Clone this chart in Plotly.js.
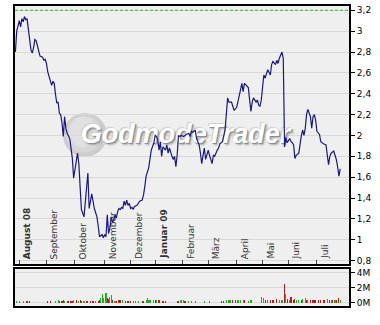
<!DOCTYPE html>
<html><head><meta charset="utf-8">
<script src="https://cdn.plot.ly/plotly-3.0.1.min.js"></script>
<style>html,body{margin:0;padding:0;background:#fff;}#chart{width:380px;height:325px;}</style>
</head><body><div id="chart"></div>
<script>
// trading session number (0 = 28 Jul 2008)
const session = [1,2,4,5,6,7,8,9,10,11,12,13,14,15,16,17,18,19,20,22,23,24,25,26,27,29,30,31,32,33,34,35,36,37,38,39,40,41,43,44,45,46,48,49,50,52,54,56,57,58,60,62,64,65,66,68,69,70,71,72,73,74,75,76,77,78,79,80,81,82,83,84,85,86,87,88,89,90,91,92,93,95,96,97,99,100,101,102,104,105,106,108,109,110,111,112,113,114,115,117,118,119,120,122,123,124,125,126,127,128,129,131,132,133,135,136,137,138,140,141,142,143,144,145,146,147,148,149,150,151,153,154,155,157,158,159,161,163,165,166,168,169,170,172,173,175,176,177,178,180,181,182,183,184,185,187,188,189,190,191,193,194,195,196,198,199,200,202,203,204,205,207,208,209,210,211,213,214,215,216,217,218,220,221,222,223,224,225,226,227,228,229,230,231,232,233,234,235,236,237,238,239,241,242,243,244,245,247,248,249,250,251,252];
const close = [2.80,3.00,3.10,3.04,3.12,3.09,3.14,3.11,3.12,3.03,2.93,2.82,2.79,2.84,2.92,2.91,2.86,2.79,2.76,2.75,2.72,2.73,2.69,2.61,2.56,2.48,2.52,2.50,2.39,2.31,2.32,2.21,2.20,2.12,1.99,2.18,2.07,2.02,1.97,1.88,1.78,1.59,1.78,1.83,1.73,1.29,1.22,1.49,1.64,1.30,1.44,1.30,1.22,1.13,1.03,1.05,1.02,1.05,1.03,1.24,1.06,1.11,1.22,1.17,1.19,1.24,1.21,1.27,1.30,1.29,1.31,1.30,1.37,1.33,1.38,1.33,1.35,1.30,1.31,1.29,1.32,1.33,1.35,1.37,1.38,1.43,1.51,1.61,1.69,1.77,1.86,1.93,2.00,1.99,1.96,1.86,1.94,1.80,1.89,1.86,1.91,1.83,1.88,1.80,1.77,1.80,1.70,1.81,2.00,1.99,2.00,1.99,2.00,2.01,2.02,1.99,2.04,2.03,2.05,1.97,1.94,1.91,1.83,1.73,1.81,1.88,1.77,1.83,1.86,1.81,1.73,1.81,1.80,1.86,1.88,1.92,1.94,2.05,2.36,2.32,2.32,2.28,2.24,2.27,2.34,2.44,2.50,2.42,2.50,2.47,2.46,2.34,2.23,2.32,2.36,2.32,2.34,2.29,2.28,2.34,2.58,2.55,2.60,2.63,2.58,2.68,2.71,2.68,2.72,2.69,2.74,2.80,2.74,1.89,1.98,1.93,1.97,1.94,1.93,1.91,1.78,1.81,1.83,1.93,2.00,2.05,2.00,2.07,2.20,2.25,2.20,2.18,2.07,2.18,2.20,2.15,2.04,2.02,2.01,1.94,1.93,1.92,1.91,1.83,1.72,1.80,1.83,1.85,1.81,1.77,1.70,1.61,1.68];

const volSession = [2,4,7,10,12,26,28,32,34,35,37,38,39,41,42,44,45,46,48,50,51,52,54,56,57,59,61,63,65,66,67,68,69,71,72,73,74,75,76,78,79,81,82,84,86,88,90,92,94,96,99,100,102,103,104,105,108,109,110,112,115,117,126,127,129,131,132,135,137,140,147,151,160,162,164,166,167,169,171,173,175,177,178,181,183,191,193,194,196,198,200,203,205,207,209,210,211,213,214,216,217,218,220,222,223,225,226,227,229,231,232,233,235,237,239,240,242,244,245,246,248,249,251,252];
const volumeM = [0.2,0.2,0.2,0.2,0.25,0.25,0.25,0.2,0.35,0.25,0.25,0.35,0.25,0.25,0.25,0.25,0.25,0.4,0.3,0.25,0.4,0.25,0.25,0.25,0.25,0.25,0.25,0.25,0.25,0.4,0.65,1.1,0.65,1.25,0.65,0.45,0.8,1.05,0.35,0.25,0.25,0.4,0.3,0.3,0.25,0.25,0.25,0.25,0.2,0.2,0.25,0.25,0.3,0.55,0.3,0.3,0.35,0.3,0.3,0.4,0.25,0.25,0.25,0.25,0.3,0.35,0.25,0.25,0.25,0.25,0.25,0.25,0.25,0.25,0.4,0.3,0.3,0.4,0.3,0.3,0.3,0.3,0.35,0.25,0.3,0.7,0.55,0.35,0.35,0.3,0.3,0.45,0.3,0.4,2.55,1.2,0.5,0.3,0.8,0.3,0.5,0.3,0.35,0.3,0.45,0.65,0.35,0.3,0.3,0.3,0.3,0.3,0.3,0.3,0.3,0.35,0.45,0.3,0.35,0.3,0.35,0.35,0.6,0.3];
const volDir = ['up','up','up','down','down','down','down','up','up','down','down','down','up','down','down','down','down','up','down','up','down','down','up','down','down','down','down','up','down','down','up','up','up','up','down','down','up','up','down','up','down','down','down','up','down','down','down','up','up','up','down','down','up','up','up','up','up','down','up','down','down','down','down','down','up','up','down','up','up','up','up','up','down','down','up','up','up','down','down','up','up','up','down','up','up','up','up','down','up','down','down','down','up','up','down','up','down','up','down','down','down','up','up','down','up','up','down','up','down','down','down','down','down','down','down','down','up','down','up','down','up','down','down','up'];

const monthTicks = [4,25,47,70,90,109,130,150,172,192,212,234];
const monthLabels = ['<b>August 08</b>','September','Oktober','November','Dezember','<b>Januar 09</b>','Februar','März','April','Mai','Juni','Juli'];
const volTicks = [0,2,4];
const volTickLabels = ['0M','2M','4M'];
const resistance = 3.2;
const watermark = 'GodmodeTrader';
const watermarkAt = {session:132.5, price:1.99};

const upColor = '#22ad22', downColor = '#b51d1d';
const font9 = {family:'DejaVu Sans, Verdana, sans-serif', size:9, color:'#000'};

const traces = [
  {x:[watermarkAt.session], y:[watermarkAt.price], type:'scatter', mode:'text', xaxis:'x', yaxis:'y',
   text:[watermark], textposition:'middle center', hoverinfo:'skip', cliponaxis:false,
   textfont:{family:'Liberation Sans, Arial, sans-serif', size:27,
             weight:'bold', style:'italic', color:'#ffffff',
             shadow:'1px 1px 0px #8e8e8e, 2px 2px 2px #aaaaaa, -1px -1px 0px #d0d0d0'}},
  {x: session, y: close, type:'scatter', mode:'lines', xaxis:'x', yaxis:'y',
   line:{color:'#1a1a7e', width:1.2}, hoverinfo:'skip'},
  {x: volSession, y: volumeM, type:'bar', xaxis:'x2', yaxis:'y2', width:0.9,
   marker:{color: volDir.map(d => d === 'up' ? upColor : downColor), line:{width:0}}, hoverinfo:'skip'}
];

const frame = {showline:true, mirror:true, linecolor:'#000', linewidth:2};

const annotations = monthTicks.map((t, i) => ({
  x: t, xref:'x', y: 0, yref:'y domain', text: monthLabels[i], showarrow:false,
  textangle:-90, xanchor:'left', yanchor:'bottom', xshift:1, yshift:3,
  font:{family:'DejaVu Sans, Verdana, sans-serif', size:9, color:'#333'}
}));

const layout = {
  width:380, height:325,
  margin:{l:15, r:31, t:6, b:19, pad:0},
  paper_bgcolor:'#fff', plot_bgcolor:'#efefef',
  separators:',.',
  showlegend:false,
  bargap:0,
  xaxis: Object.assign({}, frame, {
    domain:[0,1], anchor:'y', range:[0.68, 258.8], showgrid:false, zeroline:false,
    tickvals: monthTicks, showticklabels:false,
    ticks:'inside', ticklen:4, tickwidth:1, tickcolor:'#444'
  }),
  yaxis: Object.assign({}, frame, {
    domain:[0.14,1], anchor:'x', side:'right', range:[0.768, 3.241],
    tick0:0.8, dtick:0.2, ticks:'outside', ticklen:4, tickcolor:'#000',
    gridcolor:'#d9d9d9', gridwidth:1, zeroline:false, tickfont:font9
  }),
  xaxis2: Object.assign({}, frame, {
    domain:[0,1], anchor:'y2', matches:'x', showgrid:false, zeroline:false,
    showticklabels:false, ticks:''
  }),
  yaxis2: Object.assign({}, frame, {
    domain:[0,0.1233], anchor:'x2', side:'right', range:[-0.47, 4.51],
    tickvals: volTicks, ticktext: volTickLabels, ticks:'outside', ticklen:4, tickcolor:'#000',
    gridcolor:'#d9d9d9', zeroline:false, tickfont:font9
  }),
  annotations: annotations,
  shapes: [
    {type:'circle', xref:'paper', yref:'y domain', x0:0.1437, x1:0.2754, y0:0.4147, y1:0.5853,
     fillcolor:'#cdcdcd', line:{width:0}, layer:'between'},
    {type:'circle', xref:'paper', yref:'y domain', x0:0.152, x1:0.262, y0:0.432, y1:0.575,
     fillcolor:'#d7d7d7', line:{width:0}, layer:'between'},
    {type:'circle', xref:'paper', yref:'y domain', x0:0.162, x1:0.245, y0:0.452, y1:0.572,
     fillcolor:'#e0e0e0', line:{width:0}, layer:'between'},
    {type:'line', xref:'x domain', yref:'y', x0:0, x1:1, y0:resistance, y1:resistance,
     line:{color:'#2fbf2f', width:1, dash:'3px,2px'}, layer:'above'}
  ]
};

Plotly.newPlot('chart', traces, layout, {displayModeBar:false, staticPlot:true});
</script></body></html>
